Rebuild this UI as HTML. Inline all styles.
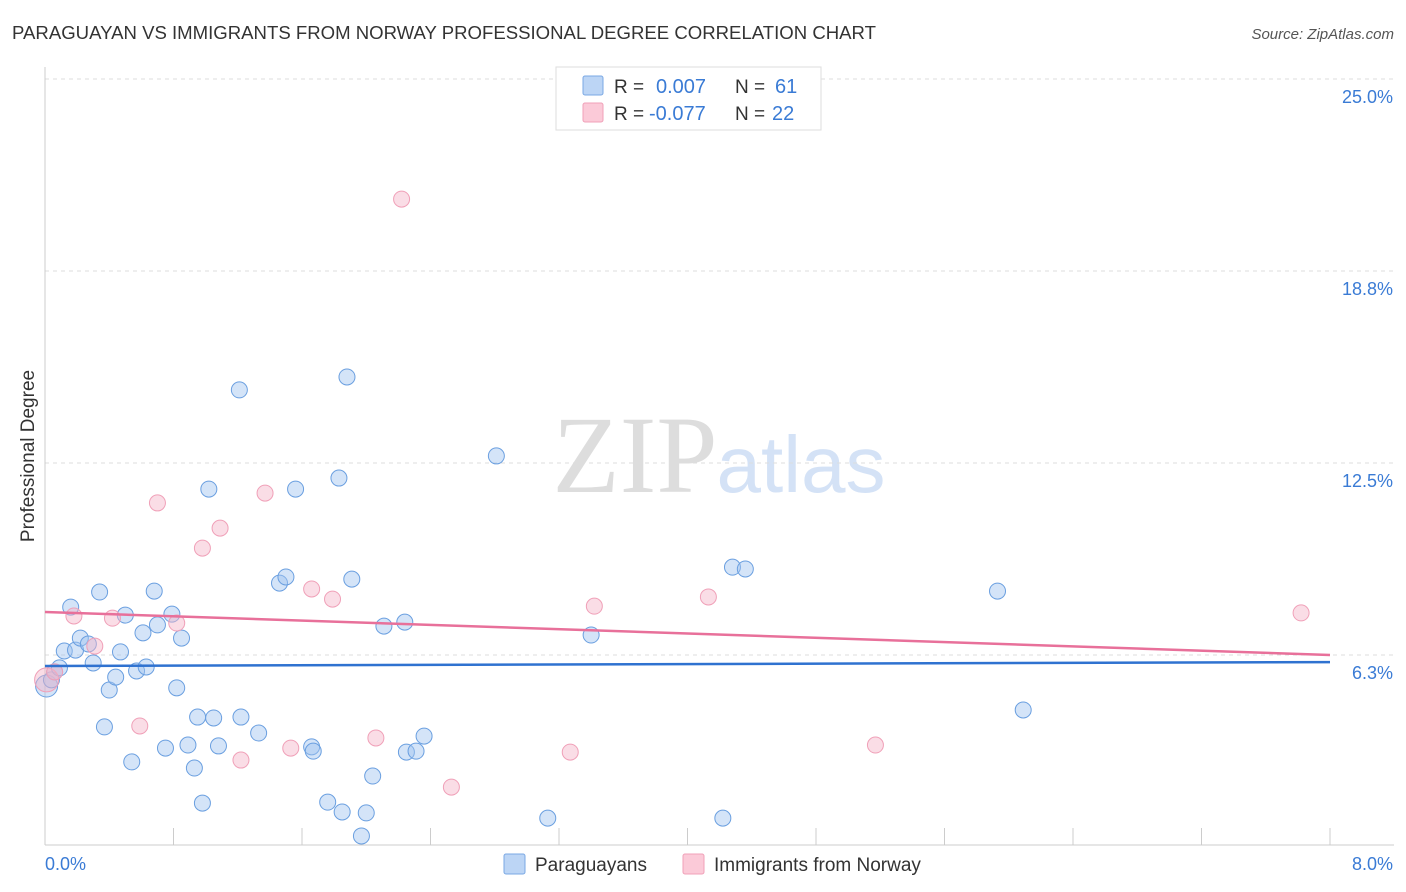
<!DOCTYPE html>
<html><head><meta charset="utf-8"><style>
body{margin:0;background:#fff;font-family:"Liberation Sans",sans-serif}
svg{display:block}
</style></head><body>
<svg id="chart" width="1406" height="892">
<text x="12" y="39" font-size="18" fill="#333" textLength="864" lengthAdjust="spacingAndGlyphs">PARAGUAYAN VS IMMIGRANTS FROM NORWAY PROFESSIONAL DEGREE CORRELATION CHART</text>
<text x="1394" y="39" font-size="15" fill="#555" font-style="italic" text-anchor="end">Source: ZipAtlas.com</text>
<text x="34" y="456" font-size="19" fill="#333" text-anchor="middle" transform="rotate(-90 34 456)">Professional Degree</text>
<g>
<text x="635" y="492" font-size="110" fill="#ddd" font-family="Liberation Serif,serif" text-anchor="middle">ZIP</text>
<text x="801" y="492" font-size="80" fill="#d4e2f6" text-anchor="middle">atlas</text>
</g>
<g id="grid"></g><g id="xt"></g><g id="pts"></g><g id="trends"></g>
<g>
<rect x="556" y="67" width="265" height="63" fill="#fff" stroke="#ddd"/>
<rect x="583" y="76" width="20" height="19" fill="#bcd5f5" stroke="#7aa8e4" rx="2"/>
<rect x="583" y="103" width="20" height="19" fill="#fbcad8" stroke="#f0a0b8" rx="2"/>
<text x="614" y="93" font-size="19" fill="#333">R = </text><text x="656" y="93" font-size="20" fill="#3a7bd5">0.007</text>
<text x="735" y="93" font-size="19" fill="#333">N = </text><text x="775" y="93" font-size="20" fill="#3a7bd5">61</text>
<text x="614" y="120" font-size="19" fill="#333">R = </text><text x="649" y="120" font-size="20" fill="#3a7bd5">-0.077</text>
<text x="735" y="120" font-size="19" fill="#333">N = </text><text x="772" y="120" font-size="20" fill="#3a7bd5">22</text>
</g>
<g>
<rect x="504" y="854" width="21" height="20" fill="#bcd5f5" stroke="#7aa8e4" rx="2"/>
<text x="535" y="871" font-size="19" fill="#333">Paraguayans</text>
<rect x="683" y="854" width="21" height="20" fill="#fbcad8" stroke="#f0a0b8" rx="2"/>
<text x="714" y="871" font-size="19" fill="#333">Immigrants from Norway</text>
</g>
</svg>
<script>
const yTicks=[6.25,12.5,18.75,25];
const yTickLabels=["6.3%","12.5%","18.8%","25.0%"];
const xTickVals=[0,0.8,1.6,2.4,3.2,4,4.8,5.6,6.4,7.2,8];
const blueX=[0.01,0.04,0.06,0.09,0.12,0.16,0.19,0.22,0.27,0.30,0.34,0.37,0.40,0.44,0.47,0.50,0.54,0.57,0.61,0.63,0.68,0.70,0.75,0.79,0.82,0.85,0.89,0.93,0.95,0.98,1.02,1.05,1.08,1.21,1.22,1.33,1.46,1.50,1.56,1.66,1.67,1.76,1.83,1.85,1.88,1.91,1.97,2.00,2.04,2.11,2.24,2.25,2.31,2.36,2.81,3.13,3.40,4.22,4.28,4.36,5.93,6.09];
const blueY=[5.24,5.44,5.70,5.83,6.38,7.81,6.41,6.80,6.61,5.99,8.30,3.91,5.11,5.53,6.35,7.55,2.77,5.73,6.97,5.86,8.33,7.23,3.22,7.58,5.18,6.80,3.32,2.57,4.23,1.43,11.65,4.20,3.29,14.88,4.23,3.71,8.59,8.79,11.65,3.26,3.12,1.46,12.01,1.14,15.30,8.72,0.36,1.11,2.31,7.19,7.32,3.09,3.12,3.61,12.73,0.94,6.90,0.94,9.11,9.05,8.33,4.46];
const pinkX=[0.01,0.06,0.18,0.31,0.42,0.59,0.70,0.82,0.98,1.09,1.22,1.37,1.53,1.66,1.79,2.06,2.22,2.53,3.27,3.42,4.13,5.17,7.82];
const pinkY=[5.44,5.70,7.52,6.54,7.45,3.94,11.20,7.29,9.73,10.38,2.83,11.52,3.22,8.40,8.07,3.55,21.09,1.95,3.09,7.84,8.14,3.32,7.62];
const blueTrend=[5.89,6.02];
const pinkTrend=[7.65,6.25];
const NS="http://www.w3.org/2000/svg";
const X0=45,X1=1330,Y0=847,Y25=79;
const sx=v=>X0+v/8*(X1-X0);
const sy=v=>Y0-v/25*(Y0-Y25);
function mk(t,a,p){const e=document.createElementNS(NS,t);for(const k in a)e.setAttribute(k,a[k]);p.appendChild(e);return e;}
const grid=document.getElementById('grid');
yTicks.forEach((t,i)=>{
 const l=mk('line',{x1:X0,x2:1394,y1:sy(t),y2:sy(t),stroke:'#ddd','stroke-dasharray':'4,4'},grid);
 
 
 const tx=mk('text',{x:1393,y:sy(t)+24,'font-size':18,fill:'#3a7bd5','text-anchor':'end'},grid);
 tx.textContent=yTickLabels[i];
 
 
});
const xt=document.getElementById('xt');
const ya=mk('line',{x1:X0,x2:X0,y1:67,y2:845,stroke:'#ccc'},xt);


const xa=mk('line',{x1:X0,x2:1394,y1:845,y2:845,stroke:'#ccc'},xt);


xTickVals.forEach(v=>{const t=mk('line',{x1:sx(v),x2:sx(v),y1:828,y2:845,stroke:'#ccc'},xt);
 
 });
const xl0=mk('text',{x:45,y:870,'font-size':18,fill:'#3a7bd5'},xt);xl0.textContent='0.0%';


const xl1=mk('text',{x:1393,y:870,'font-size':18,fill:'#3a7bd5','text-anchor':'end'},xt);xl1.textContent='8.0%';


const pts=document.getElementById('pts');
blueX.forEach((x,i)=>{const c=mk('circle',{cx:sx(x),cy:sy(blueY[i]),r:i==0?11:8,fill:'rgba(160,196,240,0.45)',stroke:'#6a9fe0','stroke-width':1},pts);
 
 });
pinkX.forEach((x,i)=>{const c=mk('circle',{cx:sx(x),cy:sy(pinkY[i]),r:i==0?12:8,fill:'rgba(245,180,200,0.45)',stroke:'#f0a0b8','stroke-width':1},pts);
 
 });
const tr=document.getElementById('trends');
const bl=mk('line',{x1:sx(0),x2:sx(8),y1:sy(blueTrend[0]),y2:sy(blueTrend[1]),stroke:'#2f72d0','stroke-width':2.5},tr);


const pl=mk('line',{x1:sx(0),x2:sx(8),y1:sy(pinkTrend[0]),y2:sy(pinkTrend[1]),stroke:'#e8709a','stroke-width':2.5},tr);


</script>
</body></html>
